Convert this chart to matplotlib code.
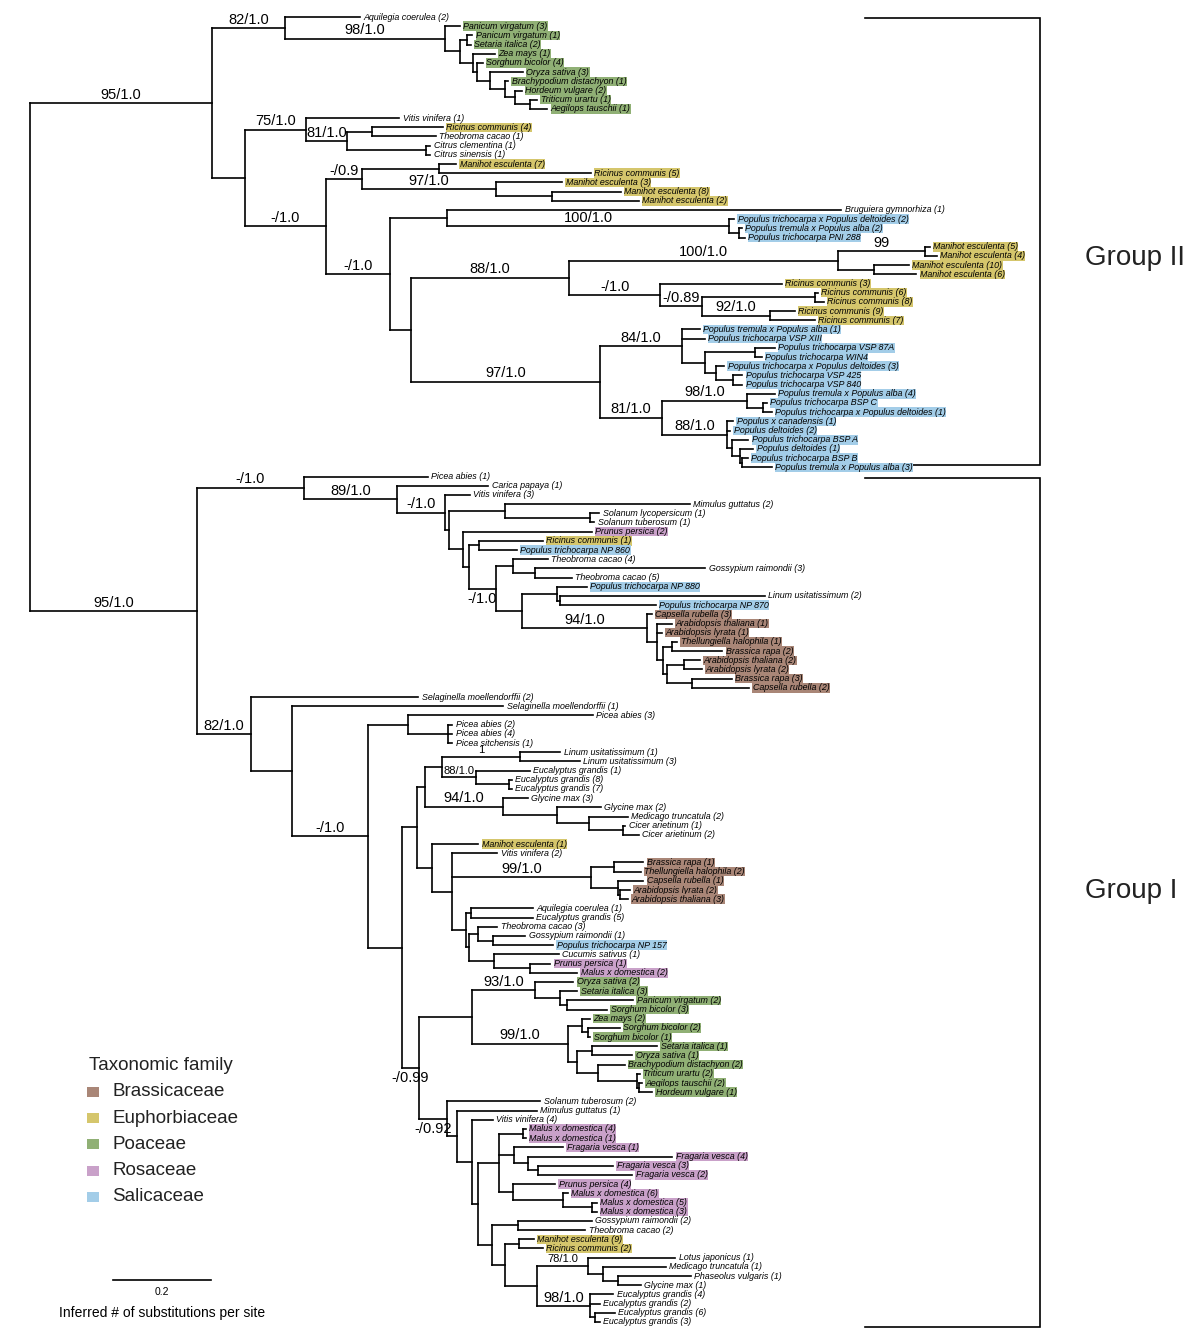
import matplotlib
matplotlib.use('Agg')
import matplotlib.pyplot as plt
from matplotlib.collections import LineCollection
from matplotlib.patches import Rectangle
from matplotlib.transforms import blended_transform_factory

# Tree, as Newick pieces.
# Branch lengths in substitutions per site, internal labels are bootstrap/posterior support
# ('|b' = support label sits under its branch, '|s' = printed smaller in the original figure).
GRASSES_II = ("('Panicum virgatum (3)':0.031,(('Panicum virgatum (1)':0.012,'Setaria italica (2)':0.008):0.014,"
              "('Zea mays (1)':0.045,('Sorghum bicolor (4)':0.012,('Oryza sativa (3)':0.067,"
              "('Brachypodium distachyon (1)':0.006,('Hordeum vulgare (2)':0.014,"
              "('Triticum urartu (1)':0.014,'Aegilops tauschii (1)':0.035):0.031):0.020):0.031):0.027):0.008):0.027):0.031)"
              "'98/1.0':0.326")
CLADE_75 = ("('Vitis vinifera (1)':0.190,(('Ricinus communis (4)':0.145,'Theobroma cacao (1)':0.131):0.051,"
            "('Citrus clementina (1)':0.008,'Citrus sinensis (1)':0.008):0.163)'81/1.0':0.082)'75/1.0':0.126")
CLADE_09 = ("(('Manihot esculenta (7)':0.035,'Ricinus communis (5)':0.310):0.157,('Manihot esculenta (3)':0.135,"
            "('Manihot esculenta (8)':0.141,'Manihot esculenta (2)':0.178):0.114)'97/1.0':0.273)'-/0.9':0.073")
BRUGUIERA = ("('Bruguiera gymnorhiza (1)':0.804,('Populus trichocarpa x Populus deltoides (2)':0.010,"
             "('Populus tremula x Populus alba (2)':0.006,'Populus trichocarpa PNI 288':0.012):0.020)'100/1.0':0.575):0.118")
CLADE_88 = ("((('Manihot esculenta (5)':0.010,'Manihot esculenta (4)':0.024)'99':0.178,"
            "('Manihot esculenta (10)':0.071,'Manihot esculenta (6)':0.086):0.075)'100/1.0':0.547,"
            "('Ricinus communis (3)':0.249,(('Ricinus communis (6)':0.006,'Ricinus communis (8)':0.018):0.231,"
            "('Ricinus communis (9)':0.051,'Ricinus communis (7)':0.092)'92/1.0':0.139)'-/0.89':0.086)'-/1.0':0.184)"
            "'88/1.0':0.324")
POPLARS = ("(('Populus tremula x Populus alba (1)':0.037,'Populus trichocarpa VSP XIII':0.047,"
           "(('Populus trichocarpa VSP 87A':0.041,'Populus trichocarpa WIN4':0.014):0.102,"
           "('Populus trichocarpa x Populus deltoides (3)':0.016,('Populus trichocarpa VSP 425':0.020,"
           "'Populus trichocarpa VSP 840':0.020):0.033):0.024):0.047)'84/1.0':0.167,"
           "(('Populus tremula x Populus alba (4)':0.057,('Populus trichocarpa BSP C':0.008,"
           "'Populus trichocarpa x Populus deltoides (1)':0.018):0.033)'98/1.0':0.173,"
           "('Populus x canadensis (1)':0.012,'Populus deltoides (2)':0.006,('Populus trichocarpa BSP A':0.033,"
           "('Populus deltoides (1)':0.027,('Populus trichocarpa BSP B':0.012,"
           "'Populus tremula x Populus alba (3)':0.061):0.004):0.016):0.010)'88/1.0':0.133)'81/1.0':0.127)'97/1.0':0.386")
GROUP_II = ("(('Aquilegia coerulea (2)':0.153,{grasses})'82/1.0':0.149,({c75},({c09},({brug},({c88},{pop}):0.043)"
            "'-/1.0':0.129)'-/1.0':0.167):0.067)'95/1.0':0.371").format(
    grasses=GRASSES_II, c75=CLADE_75, c09=CLADE_09, brug=BRUGUIERA, c88=CLADE_88, pop=POPLARS)

BRASSICAS_A = ("('Capsella rubella (3)':0.010,('Arabidopsis thaliana (1)':0.031,'Arabidopsis lyrata (1)':0.010,"
               "(('Thellungiella halophila (1)':0.010,'Brassica rapa (2)':0.102):0.020,"
               "(('Arabidopsis thaliana (2)':0.033,'Arabidopsis lyrata (2)':0.037):0.033,"
               "('Brassica rapa (3)':0.080,'Capsella rubella (2)':0.116):0.051):0.010):0.012):0.020)'94/1.0':0.255")
CLADE_89 = ("('Picea abies (1)':0.253,('Carica papaya (1)':0.186,('Vitis vinifera (3)':0.051,"
            "(('Mimulus guttatus (2)':0.377,('Solanum lycopersicum (1)':0.020,'Solanum tuberosum (1)':0.010):0.173):0.114,"
            "('Prunus persica (2)':0.263,(('Ricinus communis (1)':0.131,'Populus trichocarpa NP 860':0.078):0.020,"
            "(('Theobroma cacao (4)':0.071,('Gossypium raimondii (3)':0.347,'Theobroma cacao (5)':0.075):0.045):0.035,"
            "(('Populus trichocarpa NP 880':0.061,('Linum usitatissimum (2)':0.418,"
            "'Populus trichocarpa NP 870':0.196):0.006):0.071,{brass}):0.053)'-/1.0|b':0.055):0.012):0.029):0.008)"
            "'-/1.0':0.098)'89/1.0':0.190)'-/1.0':0.218").format(brass=BRASSICAS_A)
PICEA = ("('Picea abies (3)':0.376,('Picea abies (2)':0.008,'Picea abies (4)':0.008,"
         "'Picea sitchensis (1)':0.008):0.082):0.082")
CLADE_LINUM = ("((('Linum usitatissimum (1)':0.082,'Linum usitatissimum (3)':0.122)'1|s':0.159,"
               "('Eucalyptus grandis (1)':0.110,('Eucalyptus grandis (8)':0.006,'Eucalyptus grandis (7)':0.006):0.067)"
               "'88/1.0|s':0.069):0.035,('Glycine max (3)':0.051,('Glycine max (2)':0.090,('Medicago truncatula (2)':0.080,"
               "('Cicer arietinum (1)':0.004,'Cicer arietinum (2)':0.031):0.071):0.065):0.110)'94/1.0':0.159):0.016")
BRASSICAS_B = ("(('Brassica rapa (1)':0.061,'Thellungiella halophila (2)':0.055):0.047,('Capsella rubella (1)':0.053,"
               "('Arabidopsis lyrata (2)':0.020,'Arabidopsis thaliana (3)':0.016):0.006):0.055)'99/1.0':0.282")
CLADE_MIXED = ("(('Aquilegia coerulea (1)':0.127,'Eucalyptus grandis (5)':0.127):0.010,(('Theobroma cacao (3)':0.039,"
               "('Gossypium raimondii (1)':0.067,'Populus trichocarpa NP 157':0.124):0.029):0.020,"
               "('Cucumis sativus (1)':0.133,('Prunus persica (1)':0.041,'Malus x domestica (2)':0.096):0.075):0.051)"
               ":0.006):0.027")
GRASSES_93 = ("('Oryza sativa (2)':0.078,('Setaria italica (3)':0.035,('Panicum virgatum (2)':0.135,"
              "'Sorghum bicolor (3)':0.082):0.014):0.051)'93/1.0':0.129")
GRASSES_99 = ("(('Zea mays (2)':0.016,('Sorghum bicolor (2)':0.065,'Sorghum bicolor (1)':0.004):0.012):0.029,"
              "(('Setaria italica (1)':0.133,'Oryza sativa (1)':0.082):0.031,('Brachypodium distachyon (2)':0.055,"
              "('Triticum urartu (2)':0.006,('Aegilops tauschii (2)':0.006,'Hordeum vulgare (1)':0.027):0.004):0.080)"
              ":0.043):0.018)'99/1.0':0.196")
ROSACEAE = ("(('Malus x domestica (4)':0.006,'Malus x domestica (1)':0.006):0.049,('Fragaria vesca (1)':0.100,"
            "('Fragaria vesca (4)':0.294,('Fragaria vesca (3)':0.153,'Fragaria vesca (2)':0.192):0.020):0.029):0.031,"
            "('Prunus persica (4)':0.086,('Malus x domestica (6)':0.010,('Malus x domestica (5)':0.010,"
            "'Malus x domestica (3)':0.010):0.059):0.102):0.029):0.043")
CLADE_LEGUMES = ("(('Gossypium raimondii (2)':0.151,'Theobroma cacao (2)':0.137):0.053,"
                 "(('Manihot esculenta (9)':0.031,'Ricinus communis (2)':0.049):0.027,"
                 "(('Lotus japonicus (1)':0.178,('Medicago truncatula (1)':0.127,('Phaseolus vulgaris (1)':0.147,"
                 "'Glycine max (1)':0.045):0.031):0.031)'78/1.0|s':0.104,('Eucalyptus grandis (4)':0.047,"
                 "'Eucalyptus grandis (2)':0.020,('Eucalyptus grandis (6)':0.041,'Eucalyptus grandis (3)':0.010):0.010)"
                 "'98/1.0':0.108):0.065):0.027):0.029")
GROUP_I = ("({c89},('Selaginella moellendorffii (2)':0.341,('Selaginella moellendorffii (1)':0.431,({picea},"
           "(({linum},('Manihot esculenta (1)':0.094,('Vitis vinifera (2)':0.092,{brassb},{mixed}):0.041):0.031)"
           ":0.031,(({g93},{g99}):0.108,('Solanum tuberosum (2)':0.190,('Mimulus guttatus (1)':0.163,"
           "('Vitis vinifera (4)':0.043,({ros},{leg}):0.012):0.031):0.020)'-/0.92|b':0.057)'-/0.99|b':0.035):0.069)"
           "'-/1.0':0.155):0.084)'82/1.0':0.110)'95/1.0':0.341").format(
    c89=CLADE_89, picea=PICEA, linum=CLADE_LINUM, brassb=BRASSICAS_B, mixed=CLADE_MIXED,
    g93=GRASSES_93, g99=GRASSES_99, ros=ROSACEAE, leg=CLADE_LEGUMES)

TREE = "(" + GROUP_II + "," + GROUP_I + ");"

FAMILIES = ['Brassicaceae', 'Euphorbiaceae', 'Poaceae', 'Rosaceae', 'Salicaceae']
FAMILY_COLORS = ['#a98677', '#d5c66c', '#90b075', '#c9a1c9', '#a3cde8']
FAMILY_GENERA = [
    ['Arabidopsis', 'Brassica', 'Capsella', 'Thellungiella'],
    ['Ricinus', 'Manihot'],
    ['Panicum', 'Setaria', 'Zea', 'Sorghum', 'Oryza', 'Brachypodium', 'Hordeum', 'Triticum', 'Aegilops'],
    ['Prunus', 'Malus', 'Fragaria'],
    ['Populus'],
]
GROUPS = ['Group II', 'Group I']
GROUP_SIZES = [50, 93]   # number of tips in each group, top to bottom
SCALE_BAR = 0.2


def parse_newick(s):
    pos = 0

    def node():
        nonlocal pos
        n = {'children': [], 'name': '', 'length': 0.0}
        if s[pos] == '(':
            pos += 1
            while True:
                n['children'].append(node())
                if s[pos] == ',':
                    pos += 1
                else:
                    pos += 1  # ')'
                    break
        if s[pos] == "'":
            end = s.index("'", pos + 1)
            n['name'] = s[pos + 1:end]
            pos = end + 1
        if s[pos] == ':':
            pos += 1
            start = pos
            while s[pos] not in ',);':
                pos += 1
            n['length'] = float(s[start:pos])
        return n

    return node()


tree = parse_newick(TREE)

leaf_count = [0]


def layout(n, x_parent):
    n['px'] = x_parent
    n['x'] = x_parent + n['length']
    if n['children']:
        for c in n['children']:
            layout(c, n['x'])
        n['y'] = (n['children'][0]['y'] + n['children'][-1]['y']) / 2
    else:
        n['y'] = leaf_count[0]
        leaf_count[0] += 1


layout(tree, 0.0)

genus_color = {}
for fam_genera, col in zip(FAMILY_GENERA, FAMILY_COLORS):
    for g in fam_genera:
        genus_color[g] = col

fig = plt.figure(figsize=(12, 13.42), dpi=100)
ax = fig.add_axes([0, 0, 1, 1])
ax.axis('off')
ax.set_xlim(-30 / 490, 1170 / 490)
ax.set_ylim((1342 - 17) / 9.19, -17 / 9.19)

narrow = ['Liberation Sans Narrow', 'Liberation Sans']
segs = []


def draw(n):
    segs.append([(n['px'], n['y']), (n['x'], n['y'])])
    if n['children']:
        segs.append([(n['x'], n['children'][0]['y']), (n['x'], n['children'][-1]['y'])])
        for c in n['children']:
            draw(c)
        if n['name']:
            parts = n['name'].split('|')
            label, flags = parts[0], parts[1:]
            size = 8 if 's' in flags else 10.5
            xm = (n['px'] + n['x']) / 2
            if 'b' in flags:
                ax.text(xm, n['y'] + 0.35, label, ha='center', va='top', fontsize=size, family=narrow)
            else:
                ax.text(xm, n['y'] - 0.15, label, ha='center', va='bottom', fontsize=size, family=narrow)
    else:
        col = genus_color.get(n['name'].split()[0])
        bbox = dict(facecolor=col, edgecolor='none', pad=0.2) if col else None
        ax.text(n['x'] + 0.007, n['y'], n['name'], ha='left', va='center', fontsize=6.4,
                style='italic', family='Liberation Sans', bbox=bbox)


for c in tree['children']:
    draw(c)
segs.append([(tree['x'], tree['children'][0]['y']), (tree['x'], tree['children'][-1]['y'])])
ax.add_collection(LineCollection(segs, colors='black', linewidths=1.2, capstyle='projecting'))

# group brackets on the right
bt = blended_transform_factory(ax.transAxes, ax.transData)
start = 0
for name, size, gap in zip(GROUPS, GROUP_SIZES, [(0.1, -0.2), (0.2, 0.5)]):
    top = start + gap[0]
    bottom = start + size - 1 + gap[1]
    ax.plot([0.721, 0.867, 0.867, 0.721], [top, top, bottom, bottom], color='black', lw=1.2,
            transform=bt, solid_joinstyle='miter')
    ax.text(0.904, (top + bottom) / 2 + (1.8 if name == 'Group II' else -1.3), name, fontsize=20,
            ha='left', va='center', transform=bt, family='Liberation Sans', color='#222222')
    start += size

# legend
fig.text(89 / 1200, 1 - 1065 / 1342, 'Taxonomic family', fontsize=13.5, va='center', ha='left',
         family='Liberation Sans', color='#222222')
for i, (fam, col) in enumerate(zip(FAMILIES, FAMILY_COLORS)):
    yc = 1 - (1092 + 26.2 * i) / 1342
    fig.add_artist(Rectangle((87 / 1200, yc - 5 / 1342), 12 / 1200, 10 / 1342,
                             transform=fig.transFigure, facecolor=col, edgecolor='none'))
    fig.text(112 / 1200, yc, fam, fontsize=13.5, va='center', ha='left',
             family='Liberation Sans', color='#222222')

# scale bar
x0 = (113 - 30) / 490
ybar = (1280 - 17) / 9.19
ax.plot([x0, x0 + SCALE_BAR], [ybar, ybar], color='black', lw=1.2)
ax.text(x0 + SCALE_BAR / 2, ybar + 0.8, '0.2', ha='center', va='top', fontsize=7.5, family='Liberation Sans')
ax.text(x0 + SCALE_BAR / 2, ybar + 3.6, 'Inferred # of substitutions per site', ha='center', va='center',
        fontsize=10, family=narrow)

fig.savefig('out.png', dpi=100)
